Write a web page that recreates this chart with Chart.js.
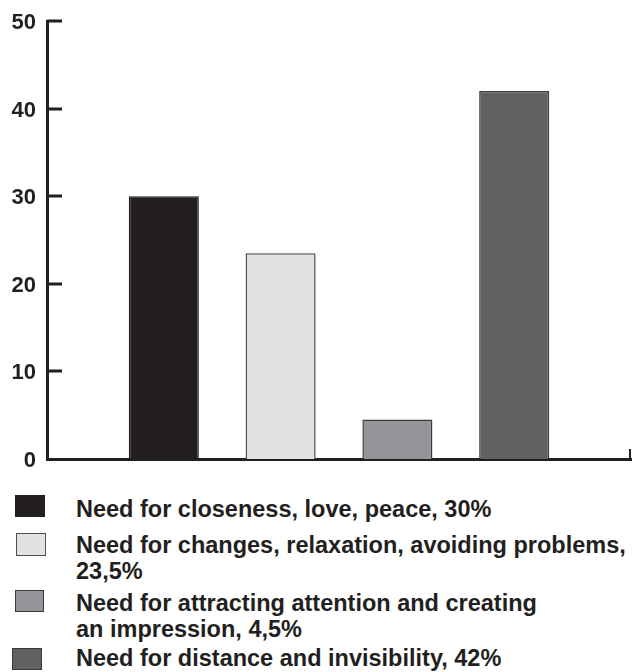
<!DOCTYPE html>
<html>
<head>
<meta charset="utf-8">
<script src="https://cdn.jsdelivr.net/npm/chart.js@4/dist/chart.umd.min.js"></script>
<style>
  html, body { margin: 0; padding: 0; background: #fff; }
  body { width: 632px; height: 672px; position: relative; overflow: hidden; }
  #wrap { position: absolute; left: 0; top: 0; width: 632px; height: 480px; }
  .sw { position: absolute; box-sizing: border-box; }
  .txt { position: absolute; left: 76px; font-family: "Liberation Sans", Arial, Helvetica, sans-serif; font-weight: bold; font-size: 23.5px; line-height: 26px; color: #231f20; white-space: nowrap; }
</style>
</head>
<body>
<div id="wrap"><canvas id="c" width="632" height="480"></canvas></div>
<div id="legend"></div>
<script>
// ---- data ----
const categories = [
  "Need for closeness, love, peace",
  "Need for changes, relaxation, avoiding problems",
  "Need for attracting attention and creating an impression",
  "Need for distance and invisibility"
];
const values = [30, 23.5, 4.5, 42];
const yTicks = [0, 10, 20, 30, 40, 50];
const legendLines = [
  ["Need for closeness, love, peace, 30%"],
  ["Need for changes, relaxation, avoiding problems,", "23,5%"],
  ["Need for attracting attention and creating", "an impression, 4,5%"],
  ["Need for distance and invisibility, 42%"]
];

// ---- styles ----
const fills = ["#231f20", "#e1e2e4", "#939598", "#616163"];
const borders = ["#231f20", "#4d4d4f", "#3a3a3c", "#3a3a3c"];
const ink = "#231f20";

// padded category layout: one empty slot on each side
const labels = [""].concat(categories, [""]);
const data = [null].concat(values, [null]);
const bgs = ["#000"].concat(fills, ["#000"]);
const bds = ["#000"].concat(borders, ["#000"]);

const tickPlugin = {
  id: "inwardTicks",
  afterDraw(chart) {
    const ctx = chart.ctx;
    const ys = chart.scales.y;
    const area = chart.chartArea;
    ctx.save();
    ctx.strokeStyle = ink;
    ctx.lineWidth = 3;
    ctx.lineCap = "butt";
    yTicks.forEach(v => {
      if (v === 0) return;
      const y = Math.round(ys.getPixelForValue(v));
      ctx.beginPath();
      ctx.moveTo(area.left, y);
      ctx.lineTo(area.left + 15, y);
      ctx.stroke();
    });
    // small upward end-tick at the right end of the x axis
    ctx.lineWidth = 2;
    ctx.beginPath();
    ctx.moveTo(area.right - 1, area.bottom + 1);
    ctx.lineTo(area.right - 1, area.bottom - 10);
    ctx.stroke();
    ctx.restore();
  }
};

new Chart(document.getElementById("c"), {
  type: "bar",
  data: {
    labels: labels,
    datasets: [{
      data: data,
      backgroundColor: bgs,
      borderColor: bds,
      borderWidth: 1.5,
      borderSkipped: "start",
      barPercentage: 1,
      categoryPercentage: 0.6
    }]
  },
  options: {
    responsive: false,
    animation: false,
    devicePixelRatio: 1,
    layout: { padding: { top: 21, right: 1, bottom: 21, left: 0 } },
    plugins: { legend: { display: false }, tooltip: { enabled: false } },
    scales: {
      x: {
        type: "category",
        offset: false,
        z: 1,
        grid: { display: false, drawTicks: false },
        border: { display: true, color: ink, width: 3 },
        ticks: { display: false },
        afterFit(s) { s.height = 0; s.paddingLeft = 0; s.paddingRight = 0; }
      },
      y: {
        min: 0,
        max: 50,
        z: 1,
        afterBuildTicks(s) { s.ticks = yTicks.map(v => ({ value: v })); },
        grid: { display: false, drawTicks: false },
        border: { display: true, color: ink, width: 3 },
        ticks: {
          padding: 11,
          labelOffset: 2,
          color: ink,
          font: { family: "'Liberation Sans', Arial, sans-serif", size: 22, weight: "bold" }
        },
        afterFit(s) { s.width = 47; s.paddingTop = 0; s.paddingBottom = 0; }
      }
    }
  },
  plugins: [tickPlugin]
});

// ---- HTML legend ----
const legendPos = [
  { sw: [15, 495, 30, 22], txtTop: 496 },
  { sw: [16, 533, 30, 23], txtTop: 532 },
  { sw: [15, 590, 29, 22], txtTop: 590 },
  { sw: [12, 648, 30, 22], txtTop: 645 }
];
const legend = document.getElementById("legend");
legendLines.forEach((lines, i) => {
  const p = legendPos[i];
  const sw = document.createElement("div");
  sw.className = "sw";
  sw.style.left = p.sw[0] + "px";
  sw.style.top = p.sw[1] + "px";
  sw.style.width = p.sw[2] + "px";
  sw.style.height = p.sw[3] + "px";
  sw.style.background = fills[i];
  sw.style.border = "1px solid " + (i === 0 ? fills[0] : borders[i]);
  legend.appendChild(sw);
  const t = document.createElement("div");
  t.className = "txt";
  t.style.top = p.txtTop + "px";
  t.innerHTML = lines.join("<br>");
  legend.appendChild(t);
});
</script>
</body>
</html>
